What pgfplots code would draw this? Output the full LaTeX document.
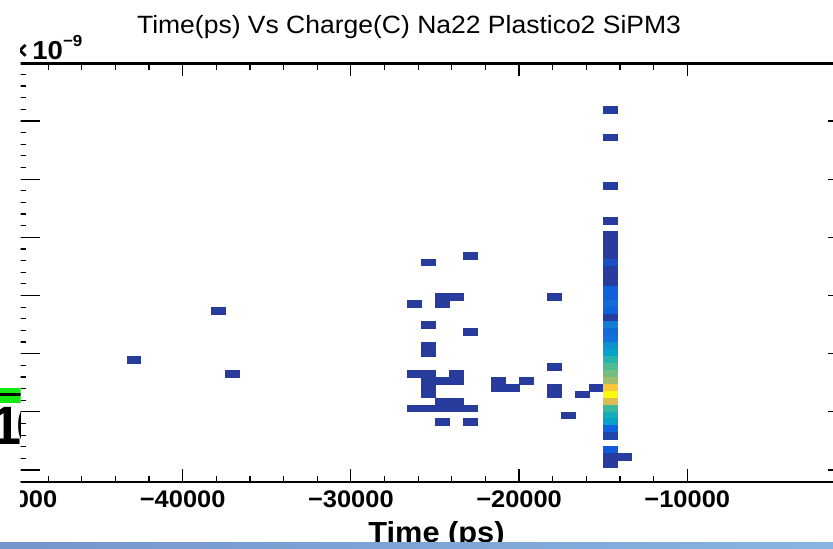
\documentclass[border=0pt]{standalone}
\usepackage{pgfplots}
\pgfplotsset{compat=1.18}
\usepackage{fontspec}
\setmainfont{Liberation Sans}[FakeStretch=1.06]
\newfontfamily\plainsans{Liberation Sans}
\pgfplotsset{
  colormap={bird}{rgb255=(40,60,158) rgb255=(15,92,221) rgb255=(20,129,214) rgb255=(6,164,202) rgb255=(46,183,164) rgb255=(135,191,119) rgb255=(209,187,89) rgb255=(254,200,50) rgb255=(249,251,14)}
}
\begin{document}
\begin{tikzpicture}
\useasboundingbox (0,0) rectangle (416.5pt,274.5pt);
\begin{scope}
\clip (10.25pt,0) rectangle (416.5pt,274.5pt);
% data axis with x ticks
\begin{axis}[
  at={(5.55pt,33.5pt)}, anchor=south west,
  scale only axis, width=418.4pt, height=209.15pt,
  xmin=-50200, xmax=-450, ymin=-0.206, ymax=6.985,
  separate axis lines,
  x axis line style={line width=1.4pt},
  y axis line style={draw=none},
  tick align=inside,
  xtick={-50000,-40000,-30000,-20000,-10000},
  xticklabels={−50000,−40000,−30000,−20000,−10000},
  minor x tick num=4,
  ytick=\empty,
  major tick length=6.25pt, minor tick length=3pt,
  xtick style={line width=0.6pt, black},
  xticklabel style={font=\bfseries\fontsize{12pt}{14pt}\selectfont, anchor=base, yshift=-12.65pt, inner sep=0pt},
  colormap name=bird, point meta min=0, point meta max=1,
]
\addplot[scatter, only marks, mark=square*, point meta=explicit,
  scatter/use mapped color={draw=mapped color, fill=mapped color},
  mark size=3.45pt, mark options={yscale=0.489, line width=0.1pt}]
table[x=x, y=y, meta=c] {
x y c
-22917 3.6921 0
-25417 3.5727 0
-24583 2.9756 0
-23750 2.9756 0
-17917 2.9756 0
-26250 2.8562 0
-24583 2.8562 0
-37917 2.7368 0
-25417 2.4979 0
-22917 2.3785 0
-25417 2.1397 0
-25417 2.0202 0
-42917 1.9008 0
-17917 1.7814 0
-26250 1.6620 0
-25417 1.6620 0
-23750 1.6620 0
-37083 1.6620 0
-25417 1.5426 0
-24583 1.5426 0
-23750 1.5426 0
-21250 1.5426 0
-19583 1.5426 0
-25417 1.4231 0
-21250 1.4231 0
-20417 1.4231 0
-17917 1.4231 0
-15417 1.4231 0
-25417 1.3037 0
-17917 1.3037 0
-16250 1.3037 0
-24583 1.1843 0
-23750 1.1843 0
-26250 1.0649 0
-25417 1.0649 0
-24583 1.0649 0
-23750 1.0649 0
-22917 1.0649 0
-17083 0.9455 0
-24583 0.8260 0
-22917 0.8260 0
-13750 0.2290 0
-14583 6.1999 0
-14583 5.7223 0
-14583 4.8863 0
-14583 4.2892 0
-14583 4.0504 0
-14583 3.9310 0
-14583 3.8115 0
-14583 3.6921 0
-14583 3.5727 0.07
-14583 3.4533 0
-14583 3.3339 0
-14583 3.2144 0
-14583 3.0950 0.14
-14583 2.9756 0.14
-14583 2.8562 0.18
-14583 2.7368 0.14
-14583 2.6173 0
-14583 2.4979 0.24
-14583 2.3785 0.17
-14583 2.2591 0.2
-14583 2.1397 0.31
-14583 2.0202 0.37
-14583 1.9008 0.48
-14583 1.7814 0.55
-14583 1.6620 0.6
-14583 1.5426 0.67
-14583 1.4231 0.86
-14583 1.3037 1.0
-14583 1.1843 0.78
-14583 1.0649 0.52
-14583 0.9455 0.43
-14583 0.8260 0.36
-14583 0.7066 0.15
-14583 0.5872 0.03
-14583 0.3484 0.12
-14583 0.2290 0
-14583 0.1095 0
};
\end{axis}
% y ticks only
\begin{axis}[
  at={(10pt,33.5pt)}, anchor=south west,
  scale only axis, width=414pt, height=209.15pt,
  xmin=0, xmax=1, ymin=-0.206, ymax=6.985,
  axis line style={draw=none},
  tick align=inside,
  xtick=\empty,
  ytick={-1,0,1,2,3,4,5,6,7},
  yticklabels={},
  minor y tick num=4,
  major tick length=10pt, minor tick length=3pt,
  ytick style={line width=0.6pt, black},
]
\end{axis}
\node[anchor=base, inner sep=0pt, font=\fontsize{12.5pt}{15pt}\selectfont] at (204.5pt,257.5pt) {Time(ps) Vs Charge(C) Na22 Plastico2 SiPM3};
\node[anchor=base east, inner sep=0pt, font=\bfseries\fontsize{13pt}{15pt}\selectfont] at (14.2pt,244.5pt) {×};
\node[anchor=base west, inner sep=0pt, font=\bfseries\fontsize{13pt}{15pt}\selectfont] at (16pt,244.5pt) {10\raisebox{6.5pt}{\fontsize{8pt}{9pt}\selectfont −9}};
\node[anchor=base, inner sep=0pt, font=\bfseries\fontsize{14.5pt}{17pt}\selectfont] at (218.25pt,3.25pt) {Time (ps)};
\end{scope}
\begin{scope}
\clip (0,0) rectangle (10.25pt,274.5pt);
\fill[fill={rgb,255:red,20;green,235;blue,20}] (0,73pt) rectangle (10.25pt,80.5pt);
\fill[black] (0,76.5pt) rectangle (10.25pt,78pt);
\node[anchor=base west, inner sep=0pt, font=\plainsans\bfseries\fontsize{27pt}{30pt}\selectfont] at (-4.4pt,52pt) {1\kern-2.6pt 0};
\end{scope}
\shade[left color={rgb,255:red,115;green,150;blue,200}, right color={rgb,255:red,135;green,180;blue,225}] (0,0) rectangle (416.5pt,3.25pt);
\end{tikzpicture}
\end{document}
